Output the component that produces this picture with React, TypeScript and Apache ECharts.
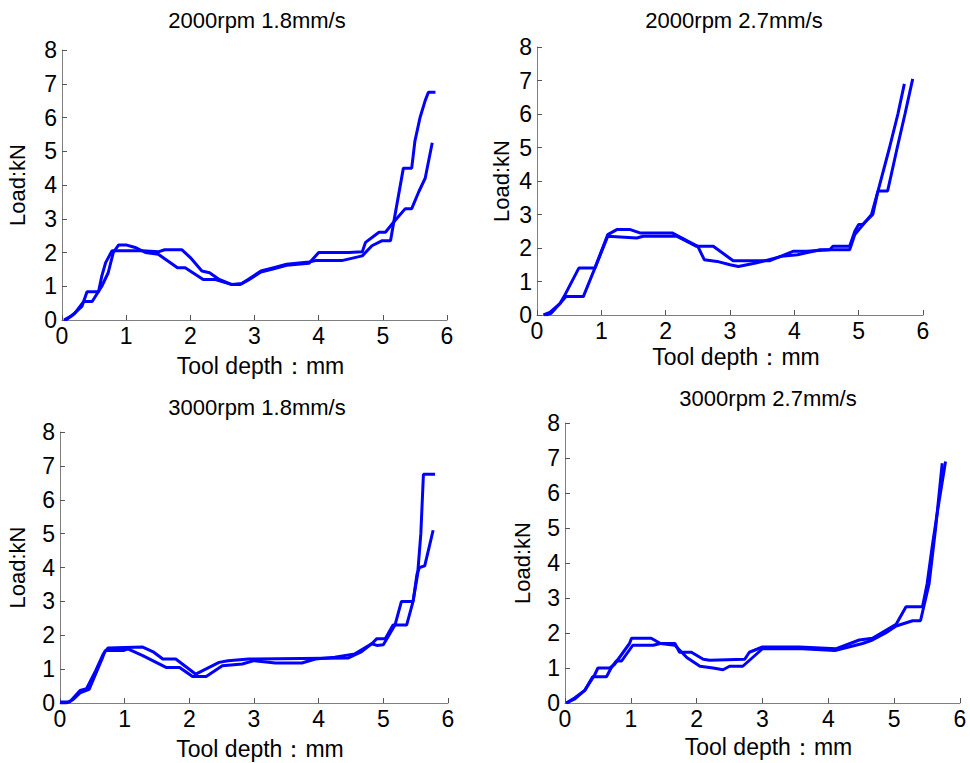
import React, { useEffect, useRef } from "react";
import * as echarts from "echarts";

// Panel titles
const titles = ["2000rpm 1.8mm/s", "2000rpm 2.7mm/s", "3000rpm 1.8mm/s", "3000rpm 2.7mm/s"];
const xName = "Tool depth：mm";
const yName = "Load:kN";
const xTicks = [0, 1, 2, 3, 4, 5, 6];
const yTicks = [0, 1, 2, 3, 4, 5, 6, 7, 8];

// Panel 1: 2000rpm 1.8mm/s
const p1a = [[0.03,0],[0.15,0.12],[0.31,0.4],[0.39,0.84],[0.57,0.84],[0.62,1.3],[0.68,1.7],[0.78,2.05],[1.25,2.05],[1.5,2.02],[1.6,2.08],[1.87,2.08],[2.0,1.85],[2.18,1.45],[2.3,1.4],[2.45,1.2],[2.65,1.05],[2.8,1.08],[2.9,1.2],[3.1,1.45],[3.3,1.55],[3.5,1.65],[3.85,1.72],[3.95,1.76],[4.36,1.76],[4.68,1.9],[4.83,2.2],[4.99,2.35],[5.12,2.35],[5.17,2.9],[5.32,4.5],[5.45,4.5],[5.5,5.3],[5.58,6.0],[5.66,6.5],[5.71,6.75],[5.82,6.75]];
const p1b = [[0.06,0],[0.2,0.2],[0.34,0.55],[0.47,0.55],[0.62,1.0],[0.72,1.4],[0.8,2.0],[0.88,2.22],[1.01,2.22],[1.14,2.15],[1.3,2.0],[1.5,1.95],[1.8,1.55],[1.92,1.55],[2.2,1.2],[2.39,1.2],[2.65,1.05],[2.78,1.05],[2.9,1.18],[3.1,1.42],[3.3,1.52],[3.5,1.62],[3.85,1.68],[4.0,2.0],[4.47,2.0],[4.68,2.02],[4.73,2.3],[4.94,2.6],[5.04,2.6],[5.19,2.95],[5.35,3.3],[5.45,3.3],[5.56,3.8],[5.66,4.2],[5.77,5.25]];

// Panel 2: 2000rpm 2.7mm/s
const p2a = [[0.1,0],[0.2,0.08],[0.36,0.35],[0.42,0.55],[0.65,1.4],[0.9,1.4],[1.1,2.4],[1.24,2.55],[1.45,2.55],[1.6,2.45],[2.1,2.45],[2.35,2.2],[2.5,2.05],[2.6,1.65],[2.8,1.6],[3.0,1.5],[3.13,1.45],[3.4,1.55],[3.8,1.75],[4.05,1.8],[4.4,1.95],[4.86,1.95],[4.94,2.4],[5.2,3.0],[5.3,3.7],[5.48,5.0],[5.61,6.0],[5.71,6.9]];
const p2b = [[0.14,0],[0.22,0.05],[0.36,0.35],[0.45,0.55],[0.72,0.55],[0.9,1.4],[1.1,2.35],[1.55,2.3],[1.65,2.35],[2.17,2.35],[2.33,2.2],[2.48,2.05],[2.74,2.05],[3.05,1.62],[3.62,1.62],[3.98,1.9],[4.19,1.9],[4.55,1.95],[4.6,2.05],[4.86,2.05],[4.94,2.5],[5.0,2.7],[5.06,2.7],[5.22,3.0],[5.3,3.7],[5.45,3.7],[5.6,5.0],[5.72,6.0],[5.84,7.05]];

// Panel 3: 3000rpm 1.8mm/s
const p3a = [[0,0.03],[0.15,0.03],[0.31,0.37],[0.41,0.42],[0.55,0.95],[0.67,1.45],[0.74,1.62],[1.28,1.65],[1.45,1.5],[1.59,1.3],[1.79,1.3],[2.1,0.85],[2.46,1.2],[2.6,1.25],[2.92,1.3],[4.46,1.33],[4.65,1.5],[4.82,1.75],[4.9,1.7],[5.0,1.72],[5.18,2.3],[5.28,3.0],[5.46,3.0],[5.53,3.8],[5.58,5.0],[5.62,6.75],[5.8,6.75]];
const p3b = [[0,0.0],[0.1,0.0],[0.2,0.1],[0.31,0.3],[0.45,0.4],[0.55,0.85],[0.65,1.3],[0.7,1.55],[0.98,1.55],[1.05,1.6],[1.1,1.55],[1.28,1.4],[1.64,1.05],[1.85,1.05],[2.05,0.78],[2.26,0.78],[2.51,1.1],[2.82,1.15],[3.0,1.25],[3.33,1.18],[3.74,1.18],[3.95,1.3],[4.25,1.35],[4.56,1.45],[4.82,1.75],[4.9,1.9],[5.03,1.9],[5.15,2.3],[5.36,2.3],[5.46,3.0],[5.52,3.8],[5.56,4.0],[5.64,4.05],[5.77,5.1]];

// Panel 4: 3000rpm 2.7mm/s
const p4a = [[0.02,0],[0.15,0.12],[0.3,0.36],[0.45,0.8],[0.5,1.0],[0.68,1.0],[0.75,1.1],[0.98,1.7],[1.01,1.85],[1.31,1.85],[1.45,1.7],[1.67,1.65],[1.85,1.3],[2.05,1.05],[2.25,1.0],[2.4,0.95],[2.5,1.05],[2.7,1.05],[2.85,1.3],[3.0,1.55],[3.6,1.55],[4.1,1.5],[4.52,1.7],[4.67,1.8],[4.87,2.0],[5.03,2.2],[5.28,2.35],[5.4,2.35],[5.53,3.4],[5.63,5.0],[5.73,6.85]];
const p4b = [[0.02,0],[0.15,0.15],[0.3,0.36],[0.42,0.75],[0.63,0.75],[0.7,1.0],[0.78,1.2],[0.86,1.2],[1.03,1.65],[1.34,1.65],[1.45,1.7],[1.67,1.7],[1.74,1.45],[1.92,1.45],[2.1,1.25],[2.2,1.22],[2.73,1.25],[2.8,1.45],[3.0,1.6],[3.56,1.6],[4.12,1.55],[4.47,1.8],[4.67,1.85],[5.03,2.25],[5.18,2.75],[5.43,2.75],[5.5,3.4],[5.58,4.5],[5.66,5.5],[5.78,6.9]];

const panelData = [[p1a, p1b], [p2a, p2b], [p3a, p3b], [p4a, p4b]];

const FONT = "Liberation Sans, Arial, sans-serif";
const grids = [
  { left: 62, top: 50, width: 385, height: 270 },
  { left: 537, top: 47, width: 386, height: 268 },
  { left: 60, top: 432, width: 388, height: 271 },
  { left: 565, top: 423, width: 395, height: 280 },
];
const titlePos = [
  { x: 252, y: 4 },
  { x: 729, y: 4 },
  { x: 252, y: 391 },
  { x: 763, y: 382 },
];
const yNameGap = [34, 25, 32, 32];
const xNameGap = [34, 30, 34, 32];

export default function App() {
  const ref = useRef<HTMLDivElement>(null);
  useEffect(() => {
    if (!ref.current) return;
    const chart = echarts.init(ref.current, undefined, { renderer: "svg" });
    const axisLine = { show: true, lineStyle: { color: "#7f7f7f", width: 1 } };
    const axisTick = { show: true, inside: true, length: 5, lineStyle: { color: "#555" } };
    chart.setOption({
      animation: false,
      backgroundColor: "#ffffff",
      title: titles.map((t, i) => ({
        text: t,
        left: titlePos[i].x,
        top: titlePos[i].y,
        textAlign: "center",
        textStyle: { fontFamily: FONT, fontSize: 22, fontWeight: "normal", color: "#000" },
      })),
      grid: grids.map((g) => ({ ...g, containLabel: false })),
      xAxis: grids.map((_, i) => ({
        type: "value",
        gridIndex: i,
        min: xTicks[0],
        max: xTicks[xTicks.length - 1],
        interval: 1,
        name: xName,
        nameLocation: "middle",
        nameGap: xNameGap[i],
        nameTextStyle: { fontFamily: FONT, fontSize: 23, color: "#000", padding: [0, 0, 0, 12] },
        axisLine,
        axisTick,
        splitLine: { show: false },
        axisLabel: { fontFamily: FONT, fontSize: 23, color: "#000", margin: 4 },
      })),
      yAxis: grids.map((_, i) => ({
        type: "value",
        gridIndex: i,
        min: yTicks[0],
        max: yTicks[yTicks.length - 1],
        interval: 1,
        name: yName,
        nameLocation: "middle",
        nameGap: yNameGap[i],
        nameTextStyle: { fontFamily: FONT, fontSize: 22, color: "#000" },
        axisLine,
        axisTick,
        splitLine: { show: false },
        axisLabel: { fontFamily: FONT, fontSize: 23, color: "#000", margin: 5 },
      })),
      series: panelData.flatMap((pair, i) =>
        pair.map((d) => ({
          type: "line",
          xAxisIndex: i,
          yAxisIndex: i,
          data: d,
          showSymbol: false,
          symbol: "none",
          lineStyle: { color: "#0000ff", width: 3 },
        }))
      ),
    });
    return () => chart.dispose();
  }, []);
  return <div ref={ref} style={{ position: "absolute", left: 0, top: 0, width: 970, height: 763 }} />;
}
